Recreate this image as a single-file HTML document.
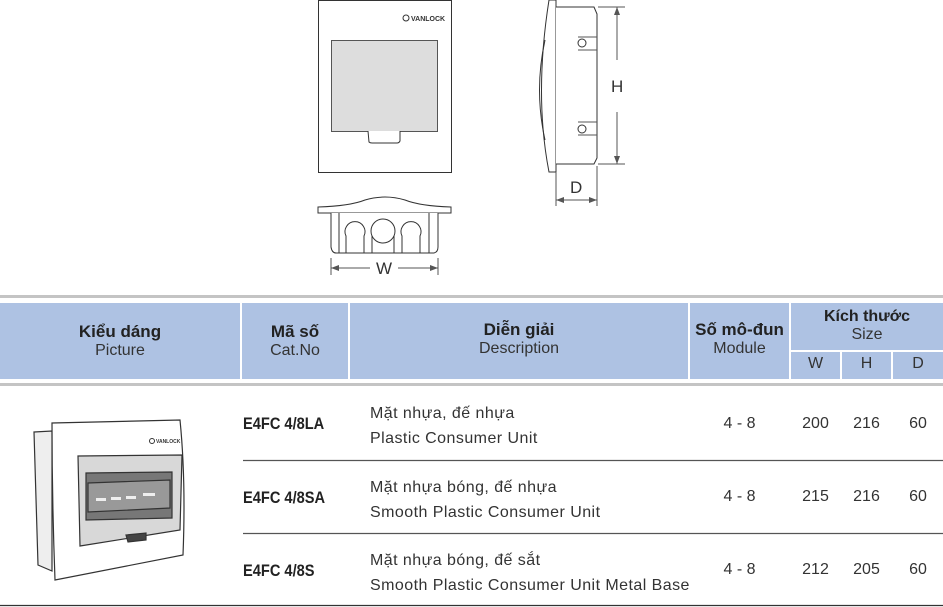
<!DOCTYPE html>
<html><head><meta charset="utf-8"><style>
body{margin:0;width:943px;height:607px;background:#fff;position:relative;overflow:hidden;font-family:"Liberation Sans Narrow","Liberation Sans",sans-serif;color:#222}
.a{position:absolute;white-space:nowrap}
.hd{position:absolute;background:#aec2e3;top:303px;height:76px}
.c{text-align:center}
.b{font-weight:bold;font-size:17px;color:#222}
.n{font-size:16px;color:#333}
.code{font-weight:bold;font-size:17px;color:#222;transform:scaleX(0.86);transform-origin:0 0}
.d{letter-spacing:0.45px}
</style></head><body>
<svg class="a" style="left:0;top:0" width="943" height="607" viewBox="0 0 943 607">
<g fill="none" stroke="#333" stroke-width="1">
<rect x="318.5" y="0.5" width="133" height="172" fill="#fff"/>
<rect x="331.5" y="40.5" width="106" height="91" fill="#ddd" stroke="#555"/>
<path d="M368 131 L369 142 Q370 143 372 143 L397 143 Q399 143 400 141 L400 131" fill="#fff"/>
<path d="M549 0 L556 0 L556 172 L549 172 Q534 95 549 0Z" fill="#fff"/>
<path d="M545 40 Q534 90 545 140" />
<path d="M556 7 L594 7 L597 14 L597 158 L594 164 L556 164" fill="#fff"/>
<path d="M597 37 L578 37 M597 50 L578 50 M597 122 L578 122 M597 135 L578 135" stroke="#555"/>
<circle cx="582" cy="43" r="4"/><circle cx="582" cy="129" r="4"/>
<path d="M598 7 L625 7 M598 164 L625 164 M617 7 L617 60 M617 112 L617 164" stroke="#555"/>
<path d="M556 172 L556 206 M597 166 L597 206 M556 200 L597 200" stroke="#555"/>
<path d="M318 213 L318 207 Q350 206 365 200 Q385 194 405 200 Q420 206 451 207 L451 213 Z" fill="#fff"/>
<path d="M331 213 L331 247 Q332 253 336 253 L434 253 Q438 252 438 247 L438 213" fill="#fff"/>
<path d="M339 213 L339 253 M429 213 L429 253"/>
<path d="M346 253 L346 236 A10 10 0 1 1 364 236 L364 253"/>
<circle cx="383" cy="231" r="12"/><path d="M372 253 L372 236 M394 253 L394 236"/>
<path d="M402 253 L402 236 A10 10 0 1 1 420 236 L420 253"/>
<path d="M331 258 L331 275 M438 258 L438 275 M331 268 L370 268 M398 268 L438 268" stroke="#555"/>
</g>
<g fill="#555"><path d="M617 7 l-3 8 h6z M617 164 l-3 -8 h6z M556 200 l8 -3 v6z M597 200 l-8 -3 v6z M331 268 l8 -3 v6z M438 268 l-8 -3 v6z"/></g>
<circle cx="406" cy="18" r="3" fill="none" stroke="#333"/>
<text x="411" y="21" font-size="7" font-weight="bold" fill="#333" font-family="Liberation Sans">VANLOCK</text>
<rect x="0" y="295" width="943" height="3" fill="#c4c4c4"/>
<rect x="0" y="383" width="943" height="3" fill="#c4c4c4"/>
<path d="M243 460.5 H943 M243 533.5 H943" stroke="#555" stroke-width="1.2"/>
<path d="M0 605.5 H943" stroke="#333" stroke-width="1.2"/>
<g stroke="#333" fill="#fff" stroke-width="1.2">
<path d="M34 432 L52 431 L52 571 L38 565 Z" fill="#eee"/>
<path d="M52 423 L180 420 Q186 480 183 555 L55 580 Q52 500 52 423Z"/>
<path d="M78 456 L182 455 L180 530 L80 546 Z" fill="#d8d8d8"/>
<path d="M86 473 L172 472 L172 518 L86 520 Z" fill="#777"/>
<path d="M88 483 L170 480 L170 508 L88 512Z" fill="#999"/>
<path d="M126 535 L146 533 L146 540 L128 542Z" fill="#444"/>
</g>
<g fill="#eee"><rect x="96" y="498" width="10" height="3"/><rect x="111" y="497" width="10" height="3"/><rect x="126" y="496" width="10" height="3"/><rect x="143" y="493" width="12" height="3"/></g>
<circle cx="152" cy="441" r="2.5" fill="none" stroke="#333"/>
<text x="156" y="443" font-size="5" font-weight="bold" fill="#333" font-family="Liberation Sans">VANLOCK</text>
</svg>
<div class="hd" style="left:0;width:240px"></div>
<div class="hd" style="left:242px;width:106px"></div>
<div class="hd" style="left:350px;width:338px"></div>
<div class="hd" style="left:690px;width:99px"></div>
<div class="hd" style="left:791px;width:152px;height:47px"></div>
<div class="hd" style="left:791px;top:352px;width:49px;height:27px"></div>
<div class="hd" style="left:842px;top:352px;width:49px;height:27px"></div>
<div class="hd" style="left:893px;top:352px;width:50px;height:27px"></div>
<div class="a c" style="left:0;width:240px;top:322px"><div class="b">Kiểu dáng</div><div class="n">Picture</div></div>
<div class="a c" style="left:242px;width:106px;top:322px"><div class="b">Mã số</div><div class="n">Cat.No</div></div>
<div class="a c" style="left:350px;width:338px;top:320px"><div class="b">Diễn giải</div><div class="n">Description</div></div>
<div class="a c" style="left:690px;width:99px;top:320px"><div class="b">Số mô-đun</div><div class="n">Module</div></div>
<div class="a c" style="left:791px;width:152px;top:308px"><div class="b" style="font-size:16px">Kích thước</div><div class="n">Size</div></div>
<div class="a c n" style="left:791px;width:49px;top:355px">W</div>
<div class="a c n" style="left:842px;width:49px;top:355px">H</div>
<div class="a c n" style="left:893px;width:50px;top:355px">D</div>
<div class="a code" style="left:243px;top:414px">E4FC 4/8LA</div>
<div class="a code" style="left:243px;top:488px">E4FC 4/8SA</div>
<div class="a code" style="left:243px;top:561px">E4FC 4/8S</div>
<div class="a n d" style="left:370px;top:401px;line-height:25px">Mặt nhựa, đế nhựa<br>Plastic Consumer Unit</div>
<div class="a n d" style="left:370px;top:475px;line-height:25px">Mặt nhựa bóng, đế nhựa<br>Smooth Plastic Consumer Unit</div>
<div class="a n d" style="left:370px;top:548px;line-height:25px">Mặt nhựa bóng, đế sắt<br>Smooth Plastic Consumer Unit Metal Base</div>
<div class="a c n" style="left:690px;width:99px;top:415px">4 - 8</div>
<div class="a c n" style="left:690px;width:99px;top:488px">4 - 8</div>
<div class="a c n" style="left:690px;width:99px;top:561px">4 - 8</div>
<div class="a c n" style="left:791px;width:49px;top:415px">200</div>
<div class="a c n" style="left:842px;width:49px;top:415px">216</div>
<div class="a c n" style="left:893px;width:50px;top:415px">60</div>
<div class="a c n" style="left:791px;width:49px;top:488px">215</div>
<div class="a c n" style="left:842px;width:49px;top:488px">216</div>
<div class="a c n" style="left:893px;width:50px;top:488px">60</div>
<div class="a c n" style="left:791px;width:49px;top:561px">212</div>
<div class="a c n" style="left:842px;width:49px;top:561px">205</div>
<div class="a c n" style="left:893px;width:50px;top:561px">60</div>
<div class="a" style="left:611px;top:77px;font-size:17px;color:#333">H</div>
<div class="a" style="left:570px;top:178px;font-size:17px;color:#333">D</div>
<div class="a" style="left:376px;top:259px;font-size:17px;color:#333">W</div>
</body></html>
